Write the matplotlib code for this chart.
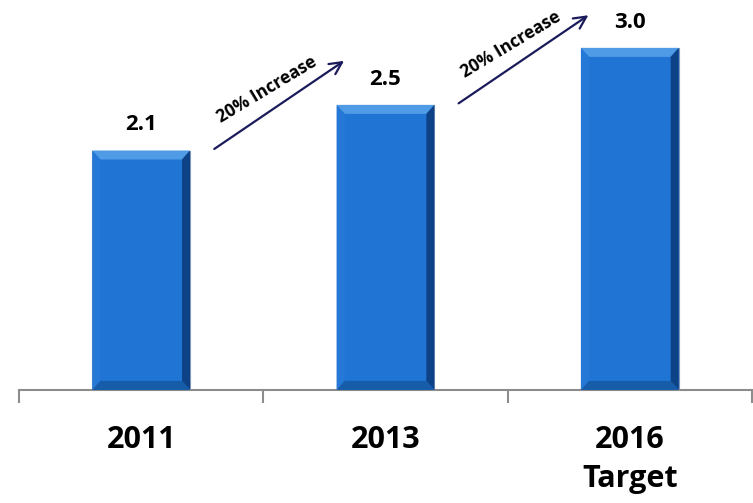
import matplotlib
matplotlib.use("Agg")
import matplotlib.pyplot as plt
from matplotlib.patches import Polygon, Rectangle

# --- dados ---
anos = ["2011", "2013", "2016\nTarget"]
valores = [2.1, 2.5, 3.0]
rotulos_valor = ["2.1", "2.5", "3.0"]
rotulos_seta = ["20% Increase", "20% Increase"]

plt.rcParams['font.family'] = ['Open Sans', 'DejaVu Sans']

FACE = '#1f74d4'
TOPO = '#4f9be6'
ESQ = '#2578d6'
DIR = '#0e4287'
BASE = '#175ca8'
SETA = '#1b1b5c'
EIXO = '#8c8c8c'

fig = plt.figure(figsize=(7.53, 5.03), dpi=100)
ax = fig.add_axes([0.0252, 0.2247, 0.9734, 0.7753])
ax.set_xlim(-0.5, len(anos) - 0.5)
ax.set_ylim(0, 3.42)

# tamanho do chanfro em unidades de dados (~8 px)
bbox = ax.get_window_extent()
px_x = bbox.width / (ax.get_xlim()[1] - ax.get_xlim()[0])
px_y = bbox.height / (ax.get_ylim()[1] - ax.get_ylim()[0])
bx, by = 8 / px_x, 9 / px_y

largura = 0.4
for i, v in enumerate(valores):
    l, r = i - largura / 2, i + largura / 2
    ax.add_patch(Rectangle((l, 0), largura, v, facecolor=FACE,
                           edgecolor='#7f98b8', lw=0.8, zorder=2))
    # faces do chanfro
    ax.add_patch(Polygon([(l, v), (r, v), (r - bx, v - by), (l + bx, v - by)],
                         closed=True, facecolor=TOPO, lw=0, zorder=3))
    ax.add_patch(Polygon([(l, 0), (l, v), (l + bx, v - by), (l + bx, by)],
                         closed=True, facecolor=ESQ, lw=0, zorder=3))
    ax.add_patch(Polygon([(r, 0), (r, v), (r - bx, v - by), (r - bx, by)],
                         closed=True, facecolor=DIR, lw=0, zorder=3))
    ax.add_patch(Polygon([(l, 0), (r, 0), (r - bx, by), (l + bx, by)],
                         closed=True, facecolor=BASE, lw=0, zorder=3))
    ax.annotate(rotulos_valor[i], (i, v), xytext=(0, 11), textcoords='offset points',
                ha='center', va='bottom', fontsize=16, fontweight='bold', color='black')

# setas de crescimento entre as barras
for i, txt in enumerate(rotulos_seta):
    v = valores[i]
    ax.annotate('', xy=(i + 0.84, v + 0.8), xytext=(i + 0.29, v),
                arrowprops=dict(arrowstyle='->', color=SETA, lw=1.6, mutation_scale=22))
    ax.text(i + 0.515, v + 0.53, txt, rotation=31, ha='center', va='center',
            fontsize=12.5, fontweight='bold', color='black', rotation_mode='anchor')

for s in ['top', 'left', 'right']:
    ax.spines[s].set_visible(False)
ax.spines['bottom'].set_color(EIXO)
ax.spines['bottom'].set_linewidth(1.5)
ax.set_yticks([])
ax.set_xticks(range(len(anos)))
ax.set_xticklabels(anos, fontsize=22, fontweight='bold', linespacing=1.4)
ax.tick_params(axis='x', which='major', length=0, pad=25)
ax.set_xticks([-0.5, 0.5, 1.5, 2.5], minor=True)
ax.tick_params(axis='x', which='minor', length=9, width=1.5, color=EIXO)

fig.savefig('out.png', dpi=100)
